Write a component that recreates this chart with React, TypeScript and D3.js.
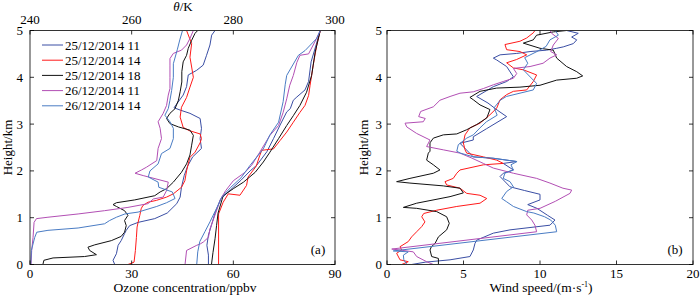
import React from "react";
import * as d3 from "d3";

type P = [number, number];

const seriesLabels = ["25/12/2014 11", "25/12/2014 14", "25/12/2014 18", "26/12/2014 11", "26/12/2014 14"];
const seriesColors = ["#3a4ea4", "#ff1a1a", "#111111", "#b24fb4", "#4a7cc4"];

const ozoneTicks = [0, 30, 60, 90];
const thetaTicks = [240, 260, 280, 300];
const heightTicks = [0, 1, 2, 3, 4, 5];
const windTicks = [0, 5, 10, 15, 20];

// Ozone (ppbv, km)
const oz_25_11: P[] = [[25.0,0],[24.5,0.09],[25.5,0.23],[26.0,0.41],[26.9,0.51],[27.9,0.66],[28.4,0.73],[29.4,0.83],[31.9,0.90],[36.8,0.98],[40.5,1.1],[43.3,1.30],[44.3,1.44],[44.7,1.65],[45.5,1.9],[46.5,2.1],[48,2.3],[50.6,2.48],[50.2,2.69],[50.6,2.91],[50.2,3.12],[47.2,3.23],[44.3,3.30],[42.5,3.35],[43.5,3.45],[45.2,3.62],[46.2,3.80],[46.7,4.05],[49.2,4.15],[51.1,4.26],[52.1,4.47],[53.1,4.69],[53.6,4.90],[54.6,5.0]];
const oz_25_14: P[] = [[28.9,0],[30.7,0.05],[31.1,0.30],[31.4,0.58],[31.6,0.80],[31.9,0.90],[32.4,1.05],[32.8,1.19],[33.3,1.26],[34.8,1.33],[37.3,1.37],[40.3,1.44],[42.3,1.51],[44.7,1.65],[45.7,1.79],[46.2,2.0],[46.7,2.15],[47.2,2.29],[48.7,2.40],[50.2,2.60],[50.6,2.69],[50.2,2.79],[47,2.86],[45.2,2.93],[44.3,3.15],[44.7,3.36],[46.2,3.57],[47.2,3.79],[48.2,4.0],[47.7,4.22],[47.2,4.43],[47.7,4.72],[46.2,5.0]];
const oz_25_18: P[] = [[3.8,0],[4.1,0.09],[6.8,0.14],[16.1,0.17],[19.6,0.21],[17.6,0.30],[17.1,0.37],[19.1,0.42],[24.0,0.51],[26.9,0.60],[27.9,0.69],[28.4,0.83],[27.9,0.94],[28.9,1.05],[27.9,1.15],[25.5,1.24],[24.5,1.28],[25.5,1.32],[30.9,1.38],[36.8,1.47],[38.4,1.55],[40.3,1.62],[42.3,1.76],[44.7,1.97],[46.2,2.15],[47.2,2.34],[47.7,2.55],[48.2,2.76],[47.2,2.87],[43.8,2.94],[41.3,3.01],[40.3,3.12],[41.3,3.23],[42.8,3.33],[43.8,3.51],[44.3,3.69],[44.8,3.90],[44.8,4.12],[45.2,4.33],[46.2,4.47],[46.7,4.62],[47.7,4.79],[48.7,4.94],[49.5,5.0]];
const oz_26_11: P[] = [[0.3,0],[0.5,0.3],[0.9,0.58],[1.2,0.9],[1.9,0.98],[5.3,1.01],[14.2,1.08],[22.0,1.15],[28.9,1.22],[34.8,1.30],[36.4,1.40],[39.3,1.44],[40.3,1.58],[40.8,1.76],[33.4,1.90],[31.0,1.95],[32.9,2.02],[34.4,2.08],[37.4,2.22],[37.8,2.48],[38.8,2.69],[38.4,2.91],[37.8,3.05],[39.3,3.23],[40.3,3.40],[40.8,3.62],[41.3,3.76],[41.3,4.0],[41.3,4.26],[41.3,4.40],[42.3,4.51],[44.7,4.58],[46.2,4.69],[47.2,4.83],[48.2,5.0]];
const oz_26_14: P[] = [[0.2,0],[0.4,0.3],[1.4,0.58],[2.0,0.69],[5.3,0.73],[14.2,0.78],[22.0,0.87],[23.5,0.94],[25.5,1.01],[28.0,1.08],[31.9,1.12],[37.4,1.24],[40.3,1.32],[42.8,1.41],[42.0,1.55],[38.0,1.65],[37.8,1.76],[34.9,1.87],[35.4,2.0],[37.8,2.15],[38.8,2.37],[41.3,2.48],[42.3,2.69],[42.3,2.91],[41.3,3.05],[39.8,3.19],[40.8,3.33],[41.3,3.51],[41.8,3.72],[42.3,4.0],[42.3,4.29],[43.5,4.6],[44.2,4.8],[45.0,5.0]];

// Potential temperature (K, km)
const th_25_11: P[] = [[275.1,0],[275.1,0.2],[274.8,0.41],[275.1,0.63],[275.7,0.84],[276.4,1.1],[277.5,1.4],[279.5,1.6],[281.5,1.8],[283.3,2.0],[284.6,2.12],[286.6,2.41],[287.9,2.69],[289.2,2.98],[290.5,3.26],[291.2,3.33],[291.8,3.51],[292.5,3.58],[294.1,3.73],[294.8,3.91],[295.3,4.33],[296.3,4.7],[297.1,5.0]];
const th_25_14: P[] = [[277.1,0],[277.1,1.08],[278.0,1.33],[279.0,1.51],[281.3,1.48],[282.6,1.69],[282.9,1.87],[284.5,2.1],[285.2,2.33],[285.6,2.44],[287.9,2.47],[289.2,2.65],[290.5,2.83],[291.8,3.04],[293.1,3.25],[294.1,3.40],[294.8,3.61],[295.1,3.83],[295.7,4.25],[296.4,4.68],[297.1,5.0]];
const th_25_18: P[] = [[275.7,0],[276.0,0.26],[276.4,0.55],[276.7,0.83],[277.0,1.1],[278.0,1.47],[280.0,1.62],[282.0,1.76],[284.3,1.97],[285.9,2.19],[287.2,2.40],[288.9,2.69],[290.5,2.97],[291.8,3.18],[293.1,3.40],[294.4,3.68],[295.4,4.04],[296.1,4.54],[297.1,5.0]];
const th_26_11: P[] = [[270.5,0],[270.8,0.3],[272.8,0.41],[273.5,0.44],[274.1,0.48],[275.1,0.58],[275.4,0.76],[276.6,1.12],[277.5,1.40],[278.5,1.58],[280.0,1.79],[282.3,1.97],[283.6,2.12],[285.2,2.40],[287.2,2.76],[288.9,2.97],[289.8,3.25],[290.5,3.54],[291.1,3.83],[291.8,4.04],[292.5,4.32],[293.1,4.47],[294.8,4.50],[296.0,4.75],[297.1,5.0]];
const th_26_14: P[] = [[272.8,0],[273.0,0.27],[273.4,0.49],[274.4,0.70],[275.4,0.91],[276.7,1.2],[277.8,1.45],[279.5,1.65],[281.5,1.85],[283.3,2.12],[285.9,2.47],[287.2,2.77],[288.9,3.04],[289.8,3.48],[290.2,3.84],[290.5,4.04],[292.8,4.47],[294.1,4.57],[296.4,4.83],[297.1,5.0]];

// Wind speed (m/s, km)
const ws_25_11: P[] = [[1.61,0],[2.5,0.05],[4.12,0.10],[5.42,0.17],[5.64,0.31],[5.75,0.45],[5.86,0.52],[6.95,0.67],[8.04,0.74],[10.65,0.84],[10.98,0.95],[10.5,1.05],[9.8,1.2],[9.2,1.28],[10.0,1.38],[10.0,1.5],[9.0,1.58],[8.04,1.66],[7.39,1.88],[7.6,1.95],[8.26,2.02],[7.6,2.16],[8.48,2.20],[6.95,2.27],[5.64,2.30],[4.77,2.59],[5.64,2.66],[5.64,2.73],[6.5,2.9],[7.82,3.16],[7.2,3.3],[6.6,3.45],[5.86,3.59],[6.95,3.80],[7.82,3.91],[8.26,4.01],[7.82,4.23],[7.17,4.37],[6.95,4.41],[7.39,4.48],[8.48,4.51],[9.35,4.55],[10.43,4.58],[11.09,4.62],[11.52,4.65],[12.18,4.72],[12.4,4.80],[12.07,4.86],[12.5,4.94],[11.74,5.0]];
const ws_25_14: P[] = [[0.96,0],[1.39,0.06],[0.85,0.1],[0.63,0.24],[0.96,0.31],[0.85,0.38],[1.39,0.49],[1.61,0.59],[1.94,0.70],[2.27,0.81],[2.48,0.91],[2.27,1.02],[2.4,1.09],[3.25,1.16],[4.56,1.24],[6.08,1.31],[6.52,1.41],[6.08,1.48],[5.21,1.52],[4.77,1.63],[3.90,1.70],[3.79,1.77],[4.33,1.84],[4.56,1.95],[4.77,2.02],[6.3,2.13],[7.6,2.16],[7.17,2.23],[6.3,2.30],[5.21,2.38],[5.1,2.45],[4.99,2.60],[5.1,2.77],[5.42,2.92],[6.08,3.02],[6.73,3.20],[7.17,3.34],[7.39,3.52],[7.82,3.63],[8.26,3.70],[9.13,3.73],[9.56,3.91],[9.78,4.05],[8.91,4.16],[8.26,4.20],[7.82,4.31],[8.47,4.38],[9.13,4.48],[8.69,4.55],[7.82,4.59],[7.71,4.70],[8.69,4.77],[9.13,4.84],[9.56,4.95],[9.67,5.0]];
const ws_25_18: P[] = [[3.36,0],[3.36,0.13],[2.92,0.17],[2.81,0.31],[2.9,0.38],[3.14,0.45],[3.36,0.59],[3.90,0.74],[4.07,0.88],[3.9,1.02],[3.25,1.13],[1.94,1.20],[1.07,1.22],[1.94,1.31],[4.12,1.45],[4.99,1.53],[4.77,1.63],[3.68,1.68],[1.50,1.74],[0.63,1.77],[1.5,1.84],[3.03,1.95],[3.46,2.02],[3.03,2.13],[2.59,2.23],[2.7,2.38],[2.81,2.42],[2.81,2.60],[3.03,2.70],[3.68,2.77],[4.56,2.79],[5.21,2.88],[5.86,2.99],[6.52,3.13],[6.73,3.31],[6.08,3.41],[5.64,3.52],[5.42,3.57],[6.08,3.70],[7.17,3.77],[8.69,3.79],[10.0,3.83],[11.09,3.94],[12.4,3.98],[12.79,4.03],[12.4,4.12],[11.74,4.23],[11.09,4.41],[10.87,4.58],[10.0,4.62],[8.91,4.73],[9.56,4.80],[9.78,4.90],[10.87,4.97],[11.74,5.0]];
const ws_26_11: P[] = [[3.03,0],[2.59,0.06],[1.94,0.17],[1.72,0.27],[0.85,0.31],[0.31,0.33],[9.78,0.70],[9.67,0.84],[9.46,0.95],[9.13,1.06],[9.2,1.16],[10.0,1.20],[11.0,1.35],[11.96,1.52],[12.07,1.59],[11.5,1.63],[10.65,1.74],[9.78,1.84],[8.26,1.95],[6.95,2.06],[6.3,2.16],[5.5,2.28],[4.77,2.38],[3.68,2.45],[2.59,2.52],[2.81,2.66],[1.94,2.80],[1.29,2.94],[1.18,3.02],[2.37,3.05],[2.5,3.12],[2.07,3.16],[2.2,3.27],[3.03,3.37],[3.46,3.51],[4.12,3.59],[4.77,3.66],[5.64,3.69],[6.3,3.76],[6.95,3.84],[7.6,3.91],[8.26,3.98],[8.48,4.08],[8.26,4.19],[9.35,4.23],[10.2,4.30],[10.65,4.41],[11.09,4.48],[10.7,4.55],[10.87,4.69],[11.2,4.83],[10.76,4.94],[10.65,5.0]];
const ws_26_14: P[] = [[1.3,0],[1.1,0.1],[1.07,0.2],[1.39,0.27],[0.41,0.29],[11.09,0.70],[11.0,0.84],[10.7,0.95],[10.3,1.02],[9.6,1.10],[9.13,1.13],[8.26,1.24],[7.82,1.34],[7.5,1.41],[7.82,1.56],[8.26,1.66],[8.04,1.77],[7.6,1.84],[7.7,1.95],[8.26,2.02],[8.1,2.13],[8.5,2.2],[6.95,2.27],[5.64,2.30],[4.8,2.38],[4.56,2.42],[4.66,2.56],[5.21,2.70],[5.64,2.77],[6.08,2.92],[6.5,3.05],[7.2,3.19],[7.0,3.35],[7.4,3.51],[7.8,3.59],[9.56,3.73],[9.78,3.87],[9.56,3.94],[8.91,4.16],[9.2,4.3],[9.0,4.42],[9.8,4.55],[10.4,4.66],[10.65,4.80],[11.2,4.9],[11.0,5.0]];

const ozoneSeries = [oz_25_11, oz_25_14, oz_25_18, oz_26_11, oz_26_14];
const thetaSeries = [th_25_11, th_25_14, th_25_18, th_26_11, th_26_14];
const windSeries = [ws_25_11, ws_25_14, ws_25_18, ws_26_11, ws_26_14];

const FONT = "'Liberation Serif', 'Times New Roman', serif";

export default function App() {
  const top = 30.5, bottom = 264.5;
  const aL = 30, aR = 335;
  const bL = 387, bR = 693;
  const y = d3.scaleLinear().domain([0, 5]).range([bottom, top]);
  const xOz = d3.scaleLinear().domain([0, 90]).range([aL, aR]);
  const xTh = d3.scaleLinear().domain([240, 300]).range([aL, aR]);
  const xW = d3.scaleLinear().domain([0, 20]).range([bL, bR]);

  const lineOz = d3.line<P>().x(d => xOz(d[0])).y(d => y(d[1]));
  const lineTh = d3.line<P>().x(d => xTh(d[0])).y(d => y(d[1]));
  const lineW = d3.line<P>().x(d => xW(d[0])).y(d => y(d[1]));
  const tl = 4;

  const yAxis = (l: number, r: number, labelX: number) => (
    <g>
      {heightTicks.map(t => (
        <g key={t}>
          <line x1={l} x2={l + tl} y1={y(t)} y2={y(t)} stroke="#000" strokeWidth={0.8} />
          <line x1={r} x2={r - tl} y1={y(t)} y2={y(t)} stroke="#000" strokeWidth={0.8} />
          <text x={labelX} y={y(t) + 4.5} textAnchor="end" fontSize={13}>{t}</text>
        </g>
      ))}
    </g>
  );

  return (
    <svg width={700} height={297} style={{ position: "absolute", left: 0, top: 0, background: "#fff" }} fontFamily={FONT}>
      <rect x={0} y={0} width={700} height={297} fill="#fff" />
      {/* Panel a */}
      <g fill="none" strokeWidth={1}>
        {thetaSeries.map((s, i) => (
          <path key={"t" + i} d={lineTh(s) || ""} stroke={seriesColors[i]} />
        ))}
        {ozoneSeries.map((s, i) => (
          <path key={"o" + i} d={lineOz(s) || ""} stroke={seriesColors[i]} />
        ))}
      </g>
      <rect x={aL} y={top} width={aR - aL} height={bottom - top} fill="none" stroke="#333" strokeWidth={1} />
      {ozoneTicks.map(t => (
        <g key={t}>
          <line x1={xOz(t)} x2={xOz(t)} y1={bottom} y2={bottom - tl} stroke="#000" strokeWidth={0.8} />
          <text x={xOz(t)} y={277.5} textAnchor="middle" fontSize={13}>{t}</text>
        </g>
      ))}
      {thetaTicks.map(t => (
        <g key={t}>
          <line x1={xTh(t)} x2={xTh(t)} y1={top} y2={top + tl} stroke="#000" strokeWidth={0.8} />
          <text x={xTh(t)} y={23.5} textAnchor="middle" fontSize={13}>{t}</text>
        </g>
      ))}
      {yAxis(aL, aR, 23)}
      <text x={183} y={11} textAnchor="middle" fontSize={13}><tspan fontStyle="italic">θ</tspan>/K</text>
      <text x={185} y={292} textAnchor="middle" fontSize={13.5}>Ozone concentration/ppbv</text>
      <text transform={`translate(12,${(top + bottom) / 2}) rotate(-90)`} textAnchor="middle" fontSize={13}>Height/km</text>
      <text x={318} y={254} textAnchor="middle" fontSize={13}>(a)</text>
      {seriesLabels.map((lab, i) => (
        <g key={lab}>
          <line x1={42} x2={63} y1={45 + i * 15.2} y2={45 + i * 15.2} stroke={seriesColors[i]} strokeWidth={1} />
          <text x={65} y={45 + i * 15.2 + 4.5} fontSize={13}>{lab}</text>
        </g>
      ))}

      {/* Panel b */}
      <g fill="none" strokeWidth={1}>
        {windSeries.map((s, i) => (
          <path key={"w" + i} d={lineW(s) || ""} stroke={seriesColors[i]} />
        ))}
      </g>
      <rect x={bL} y={top} width={bR - bL} height={bottom - top} fill="none" stroke="#333" strokeWidth={1} />
      {windTicks.map(t => (
        <g key={t}>
          <line x1={xW(t)} x2={xW(t)} y1={bottom} y2={bottom - tl} stroke="#000" strokeWidth={0.8} />
          <line x1={xW(t)} x2={xW(t)} y1={top} y2={top + tl} stroke="#000" strokeWidth={0.8} />
          <text x={xW(t)} y={277.5} textAnchor="middle" fontSize={13}>{t}</text>
        </g>
      ))}
      {yAxis(bL, bR, 382)}
      <text x={541} y={292} textAnchor="middle" fontSize={13.5}>
        Wind speed/(m·s<tspan dy={-5} fontSize={8}>-1</tspan><tspan dy={5}>)</tspan>
      </text>
      <text transform={`translate(368,${(top + bottom) / 2}) rotate(-90)`} textAnchor="middle" fontSize={13}>Height/km</text>
      <text x={675} y={254} textAnchor="middle" fontSize={13}>(b)</text>
    </svg>
  );
}
